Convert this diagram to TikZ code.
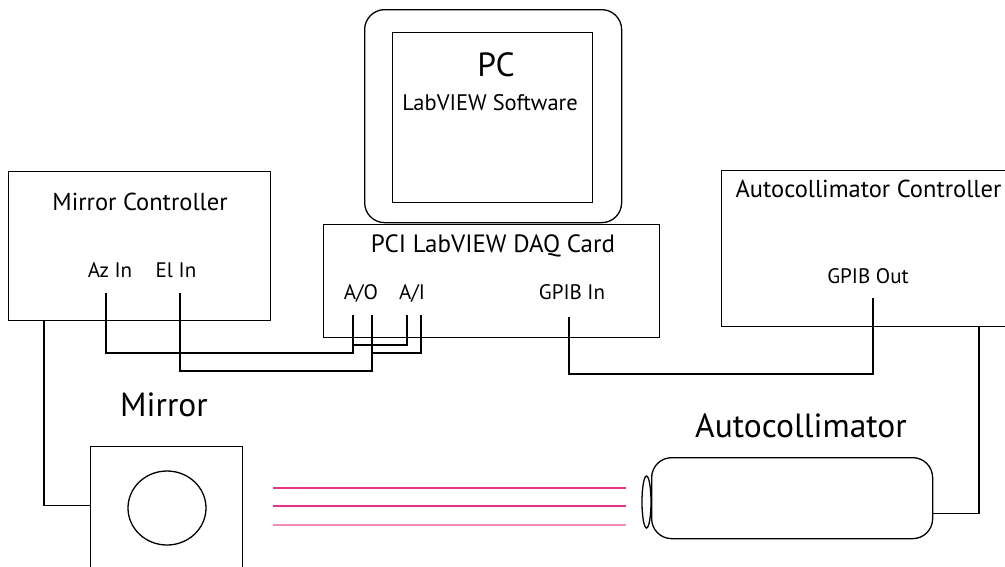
\documentclass[tikz,border=0pt]{standalone}
\usepackage{fontspec}
\setmainfont{PT Sans}
\usetikzlibrary{shapes.geometric}
\definecolor{beamdark}{HTML}{E8338B}
\definecolor{beamlight}{HTML}{F28DB8}
\tikzset{
  box/.style={draw, line width=1.3pt, anchor=north west, inner sep=0pt},
  lensshape/.style={draw, ellipse, line width=1.3pt, inner sep=0pt},
  wire/.style={line width=1.3pt},
  beam/.style={line width=1.8pt},
  title/.style={anchor=base, font=\fontsize{24.5}{28}\selectfont},
  port/.style={anchor=base, font=\fontsize{21}{24}\selectfont},
  big/.style={anchor=base, font=\fontsize{33.5}{38}\selectfont},
}
\begin{document}
\begin{tikzpicture}[x=1pt,y=-1pt]
    \useasboundingbox (0,0) rectangle (1005,566);

    \node[box, rounded corners=20pt, minimum width=257pt, minimum height=213pt] (pc) at (364,9) {};
    \node[box, minimum width=200pt, minimum height=170pt] (screen) at (392,32) {};
    \node[big] (pclbl) at (496,76) {PC};
    \node[title, font=\fontsize{22.5}{26}\selectfont] (softlbl) at (490,110) {LabVIEW Software};

    \node[box, minimum width=262pt, minimum height=149pt] (mctrl) at (8,171) {};
    \node[title] (mctrllbl) at (140,210) {Mirror Controller};
    \node[port] (azlbl) at (110,277) {Az In};
    \node[port] (ellbl) at (176,277) {El In};

    \node[box, minimum width=336pt, minimum height=113pt] (daq) at (323,224) {};
    \node[title, font=\fontsize{25}{28}\selectfont] (daqlbl) at (493,252) {PCI LabVIEW DAQ Card};
    \node[port] (aolbl) at (361,299) {A/O};
    \node[port] (ailbl) at (412,299) {A/I};
    \node[port] (gpibinlbl) at (572,299) {GPIB In};

    \node[box, minimum width=320pt, minimum height=156pt] (acctrl) at (721,170) {};
    \node[title, anchor=base west] (acctrllbl) at (732,197) {Autocollimator Controller};
    \node[port] (gpiboutlbl) at (868,283) {GPIB Out};

    \node[big] (mirrorlbl) at (164,416) {Mirror};
    \node[box, minimum width=152pt, minimum height=150pt] (mirror) at (90,446) {};
    \node[lensshape, minimum width=78pt, minimum height=74pt] (disc) at (167,508) {};

    \node[big] (acolllbl) at (801,437) {Autocollimator};
    \node[box, rounded corners=20pt, minimum width=281pt, minimum height=81pt] (acoll) at (651,457) {};
    \node[lensshape, minimum width=9pt, minimum height=52pt] (lens) at (646.5,502) {};

    \draw[beam, beamdark] (273,488) -- (626,488);
    \draw[beam, beamdark] (273,506) -- (626,506);
    \draw[beam, beamlight] (273,525) -- (626,525);

    \coordinate (azin) at (106,293);
    \coordinate (elin) at (180,293);
    \coordinate (aoA) at (353,315);
    \coordinate (aoB) at (372,315);
    \coordinate (aiA) at (407,315);
    \coordinate (aiB) at (421,315);
    \coordinate (gpibin) at (569,317);
    \coordinate (gpibout) at (873,298);
    \coordinate (mcout) at (44,320);
    \coordinate (accout) at (979,326);

    \draw[wire] (azin) -- ++(0,60) -| (aoA);
    \draw[wire] (elin) -- ++(0,78) -| (aoB);
    \draw[wire] (aiA) -- ++(0,30) -| (aoA);
    \draw[wire] (aiB) -- ++(0,38) -| (aoB);
    \draw[wire] (gpibin) -- ++(0,57) -| (gpibout);
    \draw[wire] (mcout) |- ([yshift=16pt]mirror.west);
    \draw[wire] (accout) |- ([yshift=-15pt]acoll.east);
\end{tikzpicture}
\end{document}
